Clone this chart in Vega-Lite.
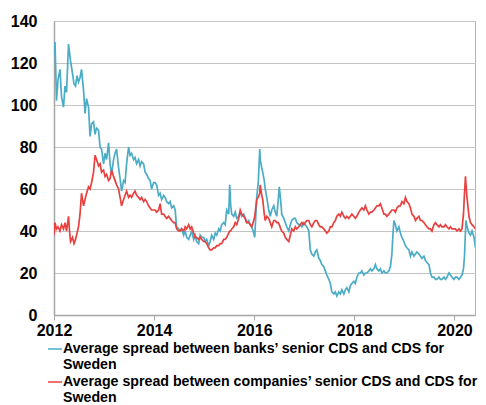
{
  "$schema": "https://vega.github.io/schema/vega-lite/v6.json",
  "width": 421,
  "height": 294,
  "autosize": {"type": "none"},
  "padding": {"left": 54, "top": 21, "right": 11, "bottom": 90},
  "background": "white",
  "data": {"values": [
{"t":2012.00,"banks":124,"companies":38},{"t":2012.02,"banks":130,"companies":44},{"t":2012.05,"banks":102,"companies":41},{"t":2012.08,"banks":112,"companies":42},{"t":2012.12,"banks":117,"companies":40},{"t":2012.15,"banks":104,"companies":43},{"t":2012.19,"banks":99,"companies":41},{"t":2012.22,"banks":109,"companies":44},{"t":2012.25,"banks":106,"companies":40},{"t":2012.29,"banks":129,"companies":47},{"t":2012.31,"banks":125,"companies":40},{"t":2012.33,"banks":121,"companies":35},{"t":2012.37,"banks":115,"companies":37},{"t":2012.40,"banks":110,"companies":34},{"t":2012.43,"banks":109,"companies":36},{"t":2012.46,"banks":114,"companies":39},{"t":2012.49,"banks":111,"companies":42},{"t":2012.52,"banks":113,"companies":48},{"t":2012.55,"banks":117,"companies":58},{"t":2012.59,"banks":107,"companies":52},{"t":2012.62,"banks":96,"companies":55},{"t":2012.65,"banks":103,"companies":58},{"t":2012.69,"banks":99,"companies":61},{"t":2012.72,"banks":85,"companies":60},{"t":2012.75,"banks":91,"companies":63},{"t":2012.79,"banks":92,"companies":68},{"t":2012.82,"banks":86,"companies":76},{"t":2012.85,"banks":89,"companies":74},{"t":2012.89,"banks":88,"companies":71},{"t":2012.92,"banks":80,"companies":72},{"t":2012.95,"banks":79,"companies":68},{"t":2012.99,"banks":72,"companies":69},
{"t":2013.02,"banks":77,"companies":66},{"t":2013.05,"banks":74,"companies":67},{"t":2013.09,"banks":82,"companies":64},{"t":2013.12,"banks":72,"companies":65},{"t":2013.15,"banks":67,"companies":69},{"t":2013.19,"banks":74,"companies":66},{"t":2013.22,"banks":77,"companies":64},{"t":2013.25,"banks":79,"companies":62},{"t":2013.29,"banks":70,"companies":60},{"t":2013.32,"banks":65,"companies":56},{"t":2013.35,"banks":59,"companies":52},{"t":2013.39,"banks":64,"companies":55},{"t":2013.42,"banks":63,"companies":57},{"t":2013.45,"banks":72,"companies":59},{"t":2013.49,"banks":80,"companies":56},{"t":2013.52,"banks":76,"companies":57},{"t":2013.55,"banks":77,"companies":56},{"t":2013.59,"banks":74,"companies":58},{"t":2013.62,"banks":75,"companies":59},{"t":2013.65,"banks":72,"companies":57},{"t":2013.69,"banks":74,"companies":56},{"t":2013.72,"banks":71,"companies":55},{"t":2013.75,"banks":73,"companies":56},{"t":2013.79,"banks":72,"companies":54},{"t":2013.82,"banks":68,"companies":55},{"t":2013.85,"banks":67,"companies":54},{"t":2013.89,"banks":65,"companies":52},{"t":2013.92,"banks":64,"companies":51},{"t":2013.95,"banks":60,"companies":50},{"t":2013.99,"banks":63,"companies":50},
{"t":2014.02,"banks":63,"companies":50},{"t":2014.05,"banks":62,"companies":49},{"t":2014.09,"banks":57,"companies":50},{"t":2014.12,"banks":58,"companies":53},{"t":2014.15,"banks":55,"companies":48},{"t":2014.19,"banks":57,"companies":48},{"t":2014.22,"banks":56,"companies":47},{"t":2014.25,"banks":54,"companies":46},{"t":2014.29,"banks":53,"companies":47},{"t":2014.32,"banks":54,"companies":46},{"t":2014.35,"banks":51,"companies":45},{"t":2014.39,"banks":52,"companies":44},{"t":2014.42,"banks":50,"companies":44},{"t":2014.45,"banks":42,"companies":41},{"t":2014.49,"banks":41,"companies":40},{"t":2014.52,"banks":40,"companies":40},{"t":2014.55,"banks":41,"companies":41},{"t":2014.59,"banks":38,"companies":40},{"t":2014.62,"banks":40,"companies":42},{"t":2014.65,"banks":37,"companies":41},{"t":2014.69,"banks":36,"companies":43},{"t":2014.72,"banks":38,"companies":41},{"t":2014.75,"banks":40,"companies":42},{"t":2014.79,"banks":36,"companies":39},{"t":2014.82,"banks":38,"companies":37},{"t":2014.85,"banks":35,"companies":37},{"t":2014.89,"banks":34,"companies":36},{"t":2014.92,"banks":38,"companies":37},{"t":2014.95,"banks":37,"companies":36},{"t":2014.99,"banks":37,"companies":35},
{"t":2015.02,"banks":35,"companies":35},{"t":2015.05,"banks":36,"companies":34},{"t":2015.09,"banks":33,"companies":32},{"t":2015.12,"banks":35,"companies":31},{"t":2015.15,"banks":38,"companies":31},{"t":2015.19,"banks":36,"companies":32},{"t":2015.22,"banks":39,"companies":32},{"t":2015.25,"banks":38,"companies":33},{"t":2015.29,"banks":41,"companies":33},{"t":2015.32,"banks":40,"companies":34},{"t":2015.35,"banks":43,"companies":34},{"t":2015.39,"banks":44,"companies":36},{"t":2015.42,"banks":43,"companies":36},{"t":2015.45,"banks":50,"companies":37},{"t":2015.49,"banks":48,"companies":39},{"t":2015.51,"banks":62,"companies":40},{"t":2015.53,"banks":52,"companies":40},{"t":2015.55,"banks":48,"companies":41},{"t":2015.59,"banks":47,"companies":42},{"t":2015.62,"banks":49,"companies":44},{"t":2015.65,"banks":46,"companies":43},{"t":2015.69,"banks":47,"companies":46},{"t":2015.72,"banks":49,"companies":50},{"t":2015.75,"banks":47,"companies":48},{"t":2015.79,"banks":48,"companies":47},{"t":2015.82,"banks":46,"companies":46},{"t":2015.85,"banks":44,"companies":44},{"t":2015.89,"banks":45,"companies":44},{"t":2015.92,"banks":43,"companies":43},{"t":2015.95,"banks":42,"companies":42},{"t":2015.99,"banks":39,"companies":45},
{"t":2016.01,"banks":37,"companies":47},{"t":2016.05,"banks":56,"companies":55},{"t":2016.08,"banks":63,"companies":56},{"t":2016.11,"banks":79,"companies":58},{"t":2016.12,"banks":74,"companies":62},{"t":2016.15,"banks":70,"companies":57},{"t":2016.17,"banks":68,"companies":55},{"t":2016.20,"banks":64,"companies":48},{"t":2016.22,"banks":60,"companies":45},{"t":2016.25,"banks":56,"companies":47},{"t":2016.29,"banks":50,"companies":46},{"t":2016.32,"banks":47,"companies":44},{"t":2016.35,"banks":50,"companies":42},{"t":2016.39,"banks":52,"companies":45},{"t":2016.42,"banks":49,"companies":45},{"t":2016.45,"banks":47,"companies":44},{"t":2016.48,"banks":55,"companies":44},{"t":2016.50,"banks":61,"companies":43},{"t":2016.53,"banks":54,"companies":41},{"t":2016.55,"banks":48,"companies":40},{"t":2016.59,"banks":46,"companies":39},{"t":2016.62,"banks":44,"companies":37},{"t":2016.65,"banks":42,"companies":36},{"t":2016.69,"banks":40,"companies":35},{"t":2016.72,"banks":43,"companies":38},{"t":2016.75,"banks":45,"companies":41},{"t":2016.79,"banks":46,"companies":40},{"t":2016.82,"banks":46,"companies":42},{"t":2016.85,"banks":44,"companies":41},{"t":2016.89,"banks":43,"companies":42},{"t":2016.92,"banks":43,"companies":43},{"t":2016.95,"banks":42,"companies":44},{"t":2016.99,"banks":44,"companies":43},
{"t":2017.02,"banks":43,"companies":44},{"t":2017.05,"banks":42,"companies":45},{"t":2017.09,"banks":40,"companies":45},{"t":2017.12,"banks":31,"companies":43},{"t":2017.15,"banks":29,"companies":42},{"t":2017.19,"banks":28,"companies":44},{"t":2017.22,"banks":30,"companies":45},{"t":2017.25,"banks":31,"companies":45},{"t":2017.29,"banks":27,"companies":43},{"t":2017.32,"banks":26,"companies":42},{"t":2017.35,"banks":24,"companies":42},{"t":2017.39,"banks":23,"companies":41},{"t":2017.42,"banks":21,"companies":40},{"t":2017.45,"banks":19,"companies":39},{"t":2017.49,"banks":17,"companies":40},{"t":2017.52,"banks":15,"companies":42},{"t":2017.55,"banks":11,"companies":42},{"t":2017.59,"banks":10,"companies":44},{"t":2017.62,"banks":11,"companies":45},{"t":2017.65,"banks":9,"companies":47},{"t":2017.69,"banks":11,"companies":48},{"t":2017.72,"banks":10,"companies":47},{"t":2017.75,"banks":12,"companies":49},{"t":2017.79,"banks":10,"companies":47},{"t":2017.82,"banks":12,"companies":46},{"t":2017.85,"banks":13,"companies":47},{"t":2017.89,"banks":11,"companies":46},{"t":2017.92,"banks":14,"companies":47},{"t":2017.95,"banks":15,"companies":48},{"t":2017.99,"banks":16,"companies":47},
{"t":2018.02,"banks":15,"companies":46},{"t":2018.05,"banks":18,"companies":47},{"t":2018.09,"banks":20,"companies":49},{"t":2018.12,"banks":20,"companies":50},{"t":2018.15,"banks":21,"companies":51},{"t":2018.19,"banks":19,"companies":50},{"t":2018.22,"banks":20,"companies":52},{"t":2018.25,"banks":20,"companies":50},{"t":2018.29,"banks":21,"companies":48},{"t":2018.32,"banks":22,"companies":49},{"t":2018.35,"banks":21,"companies":49},{"t":2018.39,"banks":22,"companies":50},{"t":2018.42,"banks":24,"companies":51},{"t":2018.45,"banks":22,"companies":52},{"t":2018.49,"banks":21,"companies":52},{"t":2018.52,"banks":22,"companies":53},{"t":2018.55,"banks":20,"companies":51},{"t":2018.59,"banks":21,"companies":48},{"t":2018.62,"banks":20,"companies":48},{"t":2018.65,"banks":20,"companies":47},{"t":2018.69,"banks":21,"companies":48},{"t":2018.72,"banks":23,"companies":49},{"t":2018.75,"banks":29,"companies":50},{"t":2018.77,"banks":38,"companies":50},{"t":2018.79,"banks":45,"companies":50},{"t":2018.82,"banks":43,"companies":49},{"t":2018.85,"banks":40,"companies":51},{"t":2018.89,"banks":42,"companies":52},{"t":2018.92,"banks":39,"companies":52},{"t":2018.95,"banks":37,"companies":54},{"t":2018.99,"banks":35,"companies":53},
{"t":2019.02,"banks":33,"companies":56},{"t":2019.05,"banks":32,"companies":54},{"t":2019.09,"banks":31,"companies":53},{"t":2019.12,"banks":28,"companies":51},{"t":2019.15,"banks":30,"companies":48},{"t":2019.19,"banks":28,"companies":47},{"t":2019.22,"banks":29,"companies":45},{"t":2019.25,"banks":30,"companies":46},{"t":2019.29,"banks":29,"companies":47},{"t":2019.32,"banks":28,"companies":45},{"t":2019.35,"banks":27,"companies":45},{"t":2019.39,"banks":28,"companies":44},{"t":2019.42,"banks":26,"companies":43},{"t":2019.45,"banks":25,"companies":42},{"t":2019.49,"banks":24,"companies":41},{"t":2019.52,"banks":20,"companies":41},{"t":2019.55,"banks":18,"companies":40},{"t":2019.59,"banks":18,"companies":43},{"t":2019.62,"banks":17,"companies":44},{"t":2019.65,"banks":17,"companies":43},{"t":2019.69,"banks":18,"companies":42},{"t":2019.72,"banks":17,"companies":43},{"t":2019.75,"banks":17,"companies":42},{"t":2019.79,"banks":18,"companies":42},{"t":2019.82,"banks":17,"companies":43},{"t":2019.85,"banks":18,"companies":42},{"t":2019.89,"banks":20,"companies":41},{"t":2019.92,"banks":19,"companies":42},{"t":2019.95,"banks":18,"companies":41},{"t":2019.99,"banks":17,"companies":41},
{"t":2020.02,"banks":18,"companies":41},{"t":2020.05,"banks":18,"companies":40},{"t":2020.09,"banks":17,"companies":41},{"t":2020.12,"banks":18,"companies":40},{"t":2020.15,"banks":19,"companies":41},{"t":2020.18,"banks":22,"companies":48},{"t":2020.20,"banks":28,"companies":58},{"t":2020.22,"banks":40,"companies":66},{"t":2020.23,"banks":45,"companies":62},{"t":2020.25,"banks":42,"companies":56},{"t":2020.29,"banks":39,"companies":47},{"t":2020.32,"banks":38,"companies":44},{"t":2020.35,"banks":40,"companies":43},{"t":2020.39,"banks":37,"companies":42},{"t":2020.42,"banks":32,"companies":41}
  ]},
  "transform": [{"fold": ["banks", "companies"], "as": ["series", "value"]}],
  "mark": {"type": "line", "strokeWidth": 1.7, "clip": true},
  "encoding": {
    "x": {
      "field": "t", "type": "quantitative",
      "scale": {"domain": [2012, 2020.41], "nice": false, "zero": false},
      "axis": {"values": [2012, 2014, 2016, 2018, 2020], "format": "d", "title": null, "grid": false,
               "labelFont": "Liberation Sans", "labelFontWeight": "bold", "labelFontSize": 16, "labelColor": "#000000",
               "domainColor": "#a6a6a6", "domainWidth": 1.5, "ticks": true, "tickColor": "#a6a6a6", "tickSize": 5,
               "labelPadding": 2, "labelFlush": false}
    },
    "y": {
      "field": "value", "type": "quantitative",
      "scale": {"domain": [0, 140], "nice": false},
      "axis": {"values": [0, 20, 40, 60, 80, 100, 120, 140], "title": null, "grid": true, "gridColor": "#c4c4c4", "gridWidth": 1,
               "labelFont": "Liberation Sans", "labelFontWeight": "bold", "labelFontSize": 16, "labelColor": "#000000",
               "domainColor": "#a6a6a6", "domainWidth": 1.5, "ticks": false, "labelPadding": 17}
    },
    "color": {
      "field": "series", "type": "nominal",
      "scale": {"domain": ["banks", "companies"], "range": ["#4bacc6", "#e8403f"]},
      "legend": {
        "title": null, "orient": "none", "legendX": -7, "legendY": 320, "direction": "vertical",
        "symbolType": "stroke", "symbolSize": 196, "symbolStrokeWidth": 1.5,
        "labelFont": "Liberation Sans", "labelFontWeight": "bold", "labelFontSize": 14.2, "labelColor": "#000000",
        "labelLimit": 0, "labelOffset": 0, "labelLineHeight": 14.5, "rowPadding": 1,
        "labelExpr": "datum.label == 'banks' ? ['Average spread between banks’ senior CDS and CDS for', 'Sweden'] : ['Average spread between companies’ senior CDS and CDS for', 'Sweden']"
      }
    }
  },
  "config": {
    "view": {"stroke": "#b3b3b3", "strokeWidth": 1}
  }
}
